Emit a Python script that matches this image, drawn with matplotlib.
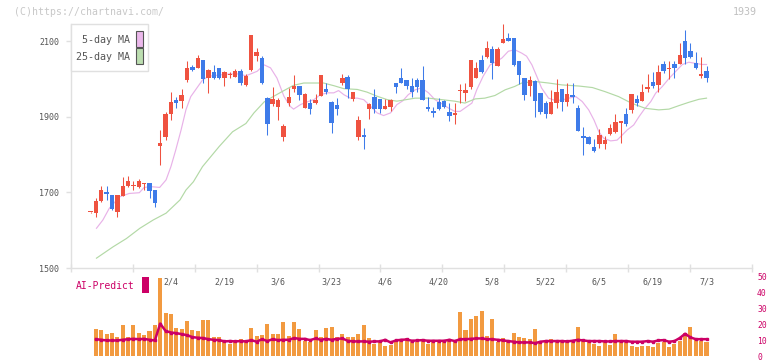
import numpy as np
import matplotlib.pyplot as plt
from matplotlib.patches import Rectangle
from matplotlib.transforms import blended_transform_factory

plt.rcParams['font.family'] = ['DejaVu Sans Mono']

# daily candles (oldest first)
opens = [1647, 1645, 1677, 1702, 1693, 1649, 1691, 1717, 1717, 1715,
         1721, 1724, 1706, 1823, 1845, 1907, 1944, 1942, 1997, 2031,
         2030, 2050, 2003, 2017, 2028, 2002, 2009, 2006, 2021, 1985,
         2024, 2061, 2055, 1949, 1934, 1925, 1846, 1936, 1973, 1982,
         1923, 1936, 1936, 1955, 1973, 1939, 1930, 1989, 2005, 1947,
         1846, 1852, 1919, 1952, 1947, 1920, 1926, 1989, 2002, 1998,
         1980, 1996, 1998, 1926, 1916, 1939, 1941, 1912, 1905, 1967,
         1963, 1979, 2002, 2051, 2057, 2079, 2035, 2095, 2108, 2108,
         2046, 2002, 1980, 1995, 1963, 1936, 1908, 1936, 1972, 1940,
         1957, 1922, 1849, 1845, 1819, 1827, 1827, 1854, 1860, 1884,
         1906, 1918, 1947, 1941, 1972, 1991, 1984, 2038, 2027, 2038,
         2039, 2100, 2074, 2043, 2008, 2020]
highs = [1648, 1684, 1717, 1717, 1694, 1694, 1741, 1743, 1730, 1735,
         1725, 1724, 1706, 1865, 1913, 1966, 1953, 1972, 2048, 2037,
         2063, 2050, 2025, 2037, 2028, 2020, 2019, 2026, 2026, 2013,
         2117, 2081, 2061, 1952, 1978, 1949, 1881, 1976, 2011, 1982,
         1963, 1947, 1960, 2011, 1989, 1942, 1949, 2013, 2011, 1965,
         1901, 1870, 1935, 1973, 1947, 1947, 1948, 1989, 2029, 1998,
         2002, 2002, 2035, 1952, 1926, 1949, 1945, 1936, 1936, 1987,
         1989, 2051, 2045, 2062, 2101, 2086, 2083, 2145, 2121, 2108,
         2048, 2002, 2007, 1996, 1963, 1942, 1971, 2000, 1972, 1988,
         1988, 1931, 1873, 1849, 1841, 1867, 1849, 1881, 1907, 1889,
         1922, 1960, 1957, 1986, 2012, 2019, 2037, 2047, 2047, 2047,
         2094, 2129, 2094, 2070, 2058, 2034]
lows = [1646, 1636, 1674, 1680, 1653, 1636, 1690, 1715, 1706, 1711,
        1706, 1684, 1660, 1772, 1838, 1891, 1922, 1922, 1992, 2022,
        2028, 1990, 1963, 1999, 1999, 1980, 2003, 2005, 1984, 1982,
        2020, 2046, 1986, 1852, 1929, 1892, 1835, 1928, 1965, 1945,
        1923, 1908, 1933, 1955, 1960, 1857, 1905, 1985, 1949, 1941,
        1839, 1815, 1895, 1910, 1910, 1919, 1916, 1962, 1988, 1973,
        1951, 1965, 1945, 1914, 1899, 1917, 1924, 1889, 1881, 1936,
        1941, 1973, 2002, 2016, 2055, 1999, 2035, 2094, 2099, 2035,
        1986, 1945, 1955, 1899, 1908, 1896, 1908, 1923, 1916, 1929,
        1935, 1862, 1799, 1827, 1807, 1818, 1815, 1852, 1858, 1831,
        1876, 1910, 1927, 1941, 1966, 1975, 1966, 2016, 1999, 2001,
        2039, 2038, 2055, 2027, 2003, 1991]
closes = [1647, 1677, 1706, 1696, 1656, 1693, 1717, 1730, 1719, 1731,
          1724, 1704, 1673, 1830, 1907, 1940, 1937, 1958, 2028, 2023,
          2054, 2000, 2023, 2003, 2002, 2017, 2012, 2021, 1988, 2007,
          2115, 2071, 1989, 1881, 1947, 1945, 1876, 1952, 1982, 1958,
          1961, 1921, 1945, 2011, 1965, 1883, 1920, 2002, 1974, 1965,
          1890, 1846, 1934, 1919, 1919, 1927, 1945, 1978, 1989, 1980,
          1965, 1979, 1945, 1919, 1910, 1921, 1925, 1903, 1910, 1971,
          1971, 2051, 2029, 2018, 2081, 2042, 2079, 2105, 2101, 2037,
          2011, 1958, 1997, 1942, 1912, 1908, 1939, 1965, 1939, 1960,
          1953, 1863, 1844, 1828, 1809, 1852, 1838, 1869, 1885, 1888,
          1880, 1960, 1937, 1964, 1979, 1981, 2017, 2021, 2029, 2029,
          2063, 2056, 2058, 2028, 2013, 2003]

# moving averages (candle index, price)
ma5_x = [1.1, 2.3, 3.5, 5.4, 7.2, 9.1, 10, 11.3, 12.9, 14.1, 15, 15.9, 16.9,
         17.8, 18.7, 20, 20.9, 22.1, 24, 25.9, 27.7, 29, 31.1, 32.4, 33.6,
         34.8, 36.1, 37.3, 37.9, 39.2, 40.4, 41.7, 42.9, 44.2, 45.4, 46.3,
         47.3, 48.5, 49.8, 51, 52.3, 53.5, 54.7, 56, 57.2, 58.3, 59.3, 60.6,
         61.8, 63.1, 64.3, 65.6, 66.8, 68, 69, 69.9, 71.2, 72.1, 73.3, 74.6,
         75.8, 76.8, 78, 79.2, 80.5, 81.4, 82.4, 83.3, 84.2, 85.5, 86.7, 88,
         89.3, 90.6, 91.8, 93, 94, 94.9, 95.8, 97.1, 98.3, 99.3, 100.2,
         101.4, 102.4, 103.3, 104.6, 105.5, 106.7, 108, 109.2, 110.5, 111.7,
         112.9, 114.2, 115]
ma5_y = [1605, 1627, 1658, 1688, 1697, 1699, 1713, 1715, 1713, 1733, 1768,
         1812, 1865, 1918, 1953, 1979, 1997, 2007, 2010, 2013, 2013, 2008,
         2020, 2037, 2029, 2002, 1954, 1927, 1920, 1932, 1939, 1945, 1958,
         1963, 1963, 1969, 1958, 1949, 1949, 1945, 1927, 1910, 1903, 1910,
         1932, 1942, 1958, 1971, 1976, 1963, 1945, 1934, 1923, 1914, 1914,
         1923, 1936, 1971, 2007, 2037, 2046, 2055, 2073, 2077, 2068, 2060,
         2037, 2007, 1976, 1949, 1943, 1944, 1949, 1953, 1940, 1918, 1891,
         1860, 1843, 1836, 1838, 1852, 1865, 1878, 1900, 1918, 1940, 1962,
         1979, 2001, 2019, 2038, 2044, 2041, 2038, 2038]
ma25_x = [1.1, 4.2, 6.7, 9.2, 11.7, 14.1, 16.7, 17.8, 19.2, 20.9, 24, 26.5,
          29, 30.5, 32.4, 34.2, 36.1, 37.9, 39.8, 43.5, 45.4, 47.3, 49.8,
          51.6, 53.5, 55.4, 57.2, 60.6, 63.1, 65.6, 68, 69.9, 71.8, 73.6,
          75.5, 77.4, 79.2, 80.5, 83, 85.5, 88, 91.2, 93.7, 96.1, 98.6,
          101.1, 103.6, 106.1, 108, 109.8, 111.7, 113.6, 115]
ma25_y = [1526, 1556, 1578, 1605, 1627, 1645, 1680, 1706, 1728, 1768, 1821,
          1860, 1882, 1910, 1939, 1954, 1969, 1983, 1989, 1989, 1982, 1974,
          1972, 1965, 1954, 1945, 1941, 1949, 1949, 1945, 1941, 1936, 1947,
          1949, 1956, 1971, 1980, 1989, 1993, 1989, 1984, 1981, 1977, 1966,
          1953, 1935, 1922, 1918, 1920, 1929, 1938, 1946, 1949]

# lower panel, candles 1..115
volume = [17.5, 16.3, 14, 15, 11.9, 19.6, 11.9, 19.6, 15, 13.3,
          15.8, 19.6, 49.5, 27.5, 26.9, 18.1, 16.9, 22.5, 16.5, 15.8,
          23.1, 23.1, 11.9, 11.9, 8.75, 7.5, 9.4, 10.6, 9.4, 18.1,
          12.7, 13.3, 20.6, 14, 14, 21.9, 12.5, 21.9, 17.5, 9.4,
          8.75, 16.3, 11.9, 18.1, 18.75, 11.9, 14, 11.9, 11.9, 14,
          19.6, 11.25, 7.9, 8.75, 6.25, 7.1, 9.8, 10.4, 11.25, 8.75,
          8.75, 9.6, 7.5, 8.75, 8.75, 9.8, 10.8, 8.75, 28.1, 16.3,
          23.75, 25.6, 28.75, 13.1, 23.75, 8.75, 11.7, 8.75, 14.4, 11.9,
          11.25, 10.6, 16.9, 8.75, 10, 10.6, 8.75, 8.75, 10.4, 8.75,
          18.75, 10.4, 8.75, 7.5, 6.25, 8.75, 6.9, 13.75, 10, 8.75,
          6.25, 5.6, 6.25, 6.25, 5.6, 8.1, 8.75, 5.6, 7.5, 9.4,
          15, 18.75, 10, 9.4, 8.75]
ai_predict = [10.8, 10.4, 10, 10, 10, 10.4, 10.8, 11, 10.8, 11,
              10.4, 10, 20.6, 16, 15, 14.6, 14, 13.3, 12.1, 11.7,
              11.5, 10.8, 10.4, 10.2, 9.4, 9.6, 9.4, 9.6, 9.4, 10.2,
              9.2, 10.8, 9.6, 10.8, 10.2, 10.4, 10.4, 11.5, 11, 11,
              10.2, 11.25, 10.4, 11, 10.4, 11, 11.25, 9.8, 9.4, 9.4,
              9.4, 9.2, 9.4, 9.4, 10.4, 8.75, 10, 10.4, 10.6, 9.8,
              10, 10.2, 9.8, 9.8, 9.8, 9.8, 10.4, 9.6, 10.8, 10.8,
              11, 11.25, 11.25, 10.8, 10.8, 10.4, 10, 9.6, 9.2, 8.75,
              8.75, 8.75, 8.3, 9.2, 9.6, 9.6, 9.6, 9.6, 9.4, 9.8,
              10.4, 10, 9.6, 9.6, 9.6, 9.4, 9.4, 9.6, 9.6, 9.6,
              9.2, 9.2, 9.2, 9.6, 9.2, 10, 10.2, 9.2, 9.6, 11.5,
              14.2, 11.9, 10.8, 10.8, 10.8]

date_labels = ['2/4', '2/19', '3/6', '3/23', '4/6', '4/20', '5/8',
               '5/22', '6/5', '6/19', '7/3']
date_pos = list(range(15, 116, 10))

UP = '#ef5240'
DOWN = '#3e7be9'
GRID = '#e0e0e0'
MAGENTA = '#cc0066'
W, H = 772, 361


def box(x0, y0, x1, y1):
    return [x0 / W, 1 - y1 / H, (x1 - x0) / W, (y1 - y0) / H]


fig = plt.figure(figsize=(W / 100, H / 100), dpi=100)
xlim = (-3.713, 123.55)

ax = fig.add_axes(box(70.7, 24, 752.3, 268))
ax.set_xlim(*xlim)
ax.set_ylim(1500, 2145)

idx = np.arange(len(opens))
o = np.array(opens)
c = np.array(closes)
colors = [UP if cc >= oo else DOWN for oo, cc in zip(o, c)]
ax.vlines(idx, lows, highs, colors=colors, lw=0.75, zorder=3)
heights = np.maximum(np.abs(c - o), 2.6)
ax.bar(idx, heights, bottom=np.minimum(o, c), width=0.82, color=colors,
       linewidth=0, zorder=4)
ax.plot(ma5_x, ma5_y, color='#e8b2e8', lw=0.85, zorder=2)
ax.plot(ma25_x, ma25_y, color='#b3d9a6', lw=0.85, zorder=2)

for s in ['top', 'right']:
    ax.spines[s].set_visible(False)
for s in ['left', 'bottom']:
    ax.spines[s].set_color(GRID)
    ax.spines[s].set_linewidth(1)
ax.set_yticks([1500, 1700, 1900, 2100])
ax.tick_params(axis='y', length=3.8, width=1, color=GRID, labelsize=6,
               labelcolor='#555555', pad=4.3)
ax.set_xticks(np.linspace(xlim[0], xlim[0] + 11.567 * 11, 12))
ax.tick_params(axis='x', direction='inout', length=5.8, width=1, color=GRID,
               labelbottom=False)

# lower panel
ax2 = fig.add_axes(box(70.7, 277, 752.3, 356.3))
ax2.patch.set_visible(False)
ax2.set_xlim(*xlim)
ax2.set_ylim(0, 50)
vidx = np.arange(1, len(volume) + 1)
ax2.bar(vidx, volume, width=0.75, color='#f29a40', linewidth=0, zorder=2,
        clip_on=False)
ax2.plot(vidx, ai_predict, color=MAGENTA, lw=1.8, marker='s',
         markersize=2.0, zorder=3)
for s in ax2.spines.values():
    s.set_visible(False)
ax2.set_xticks([])
ax2.yaxis.tick_right()
ax2.set_yticks([0, 10, 20, 30, 40, 50])
ax2.tick_params(axis='y', length=0, labelsize=5.8, labelcolor=MAGENTA, pad=3.4)

trans = blended_transform_factory(ax.transData, fig.transFigure)
for p, lab in zip(date_pos, date_labels):
    fig.text(0, 0, lab, transform=trans, ha='center', va='center',
             fontsize=6, color='#555555', zorder=10).set_position(
                 (p, 1 - 282 / H))

# legend box
fig.add_artist(Rectangle((70.7 / W, 1 - 71 / H), 77.6 / W, 46.7 / H,
                         transform=fig.transFigure, facecolor='white',
                         edgecolor=GRID, lw=1, zorder=5))
for ytxt, ysw, fc, lab in [(40, 31, '#ebb8eb', '5-day MA'),
                           (57.3, 48.3, '#bcdeb0', '25-day MA')]:
    fig.text(129.5 / W, 1 - ytxt / H, lab, ha='right', va='center',
             fontsize=7.2, color='#555555', zorder=6)
    fig.add_artist(Rectangle((136 / W, 1 - (ysw + 15.5) / H), 6.5 / W,
                             15.5 / H, transform=fig.transFigure,
                             facecolor=fc, edgecolor='#555555', lw=0.8,
                             zorder=6))

fig.text(14 / W, 1 - 12.3 / H, '(C)https://chartnavi.com/', ha='left',
         va='center', fontsize=7.1, color='#c8c8c8')
fig.text(757 / W, 1 - 12.3 / H, '1939', ha='right', va='center',
         fontsize=7.2, color='#c0c0c0')

fig.text(76 / W, 1 - 286 / H, 'AI-Predict', ha='left', va='center',
         fontsize=7, color=MAGENTA)
fig.add_artist(Rectangle((142 / W, 1 - 292.7 / H), 6.7 / W, 15.7 / H,
                         transform=fig.transFigure, facecolor=MAGENTA,
                         edgecolor='none'))

fig.savefig('out.png', dpi=100)
